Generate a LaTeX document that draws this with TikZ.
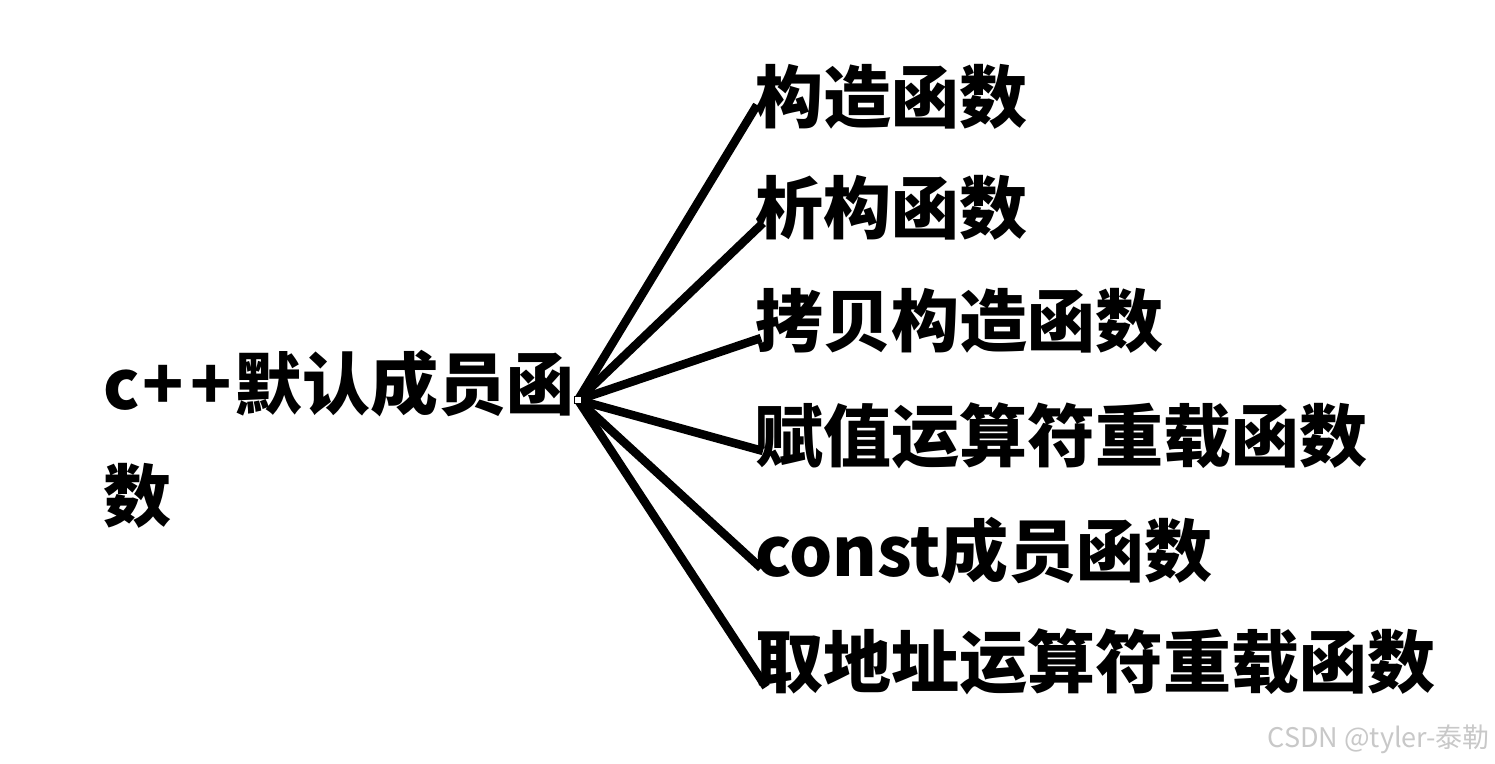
\documentclass[tikz,border=0pt]{standalone}
\usepackage{fontspec}
\newfontfamily\cjk{Noto Sans CJK SC}
\definecolor{wmgray}{RGB}{200,200,200}
\begin{document}
\begin{tikzpicture}[x=1pt,y=-1pt,
  label/.style={inner sep=0pt,anchor=base west,font=\cjk\bfseries\fontsize{68}{112}\selectfont},
  link/.style={line width=8.5pt,black},
  hubbox/.style={draw=black,fill=white,line width=1pt,minimum size=7pt,inner sep=0pt}]
\useasboundingbox[fill=white] (0,0) rectangle (1495,763);
% connector end points
\coordinate (e1) at (757,105);
\coordinate (e2) at (763,223);
\coordinate (e3) at (761,338);
\coordinate (e4) at (763,451);
\coordinate (e5) at (761,568);
\coordinate (e6) at (766,687);
\coordinate (hubpt) at (578,400);
\foreach \i in {1,...,6} \draw[link] (hubpt) -- (e\i);
\node[hubbox] (hub) at (hubpt) {};
% texts
\node[label,align=left] (root) at (103,521) {c\kern3pt+\kern6pt+\kern3pt默认成员函\\数};
\node[label] (t1) at (755,122) {构造函数};
\node[label] (t2) at (755,233) {析构函数};
\node[label] (t3) at (755,346) {拷贝构造函数};
\node[label] (t4) at (755,461) {赋值运算符重载函数};
\node[label] (t5) at (755,576) {const成员函数};
\node[label] (t6) at (755,687) {取地址运算符重载函数};
\node[inner sep=0pt,anchor=base east,text=wmgray,font=\cjk\fontsize{27}{30}\selectfont] (wm) at (1490,747) {CSDN @tyler-泰勒};
\end{tikzpicture}
\end{document}
